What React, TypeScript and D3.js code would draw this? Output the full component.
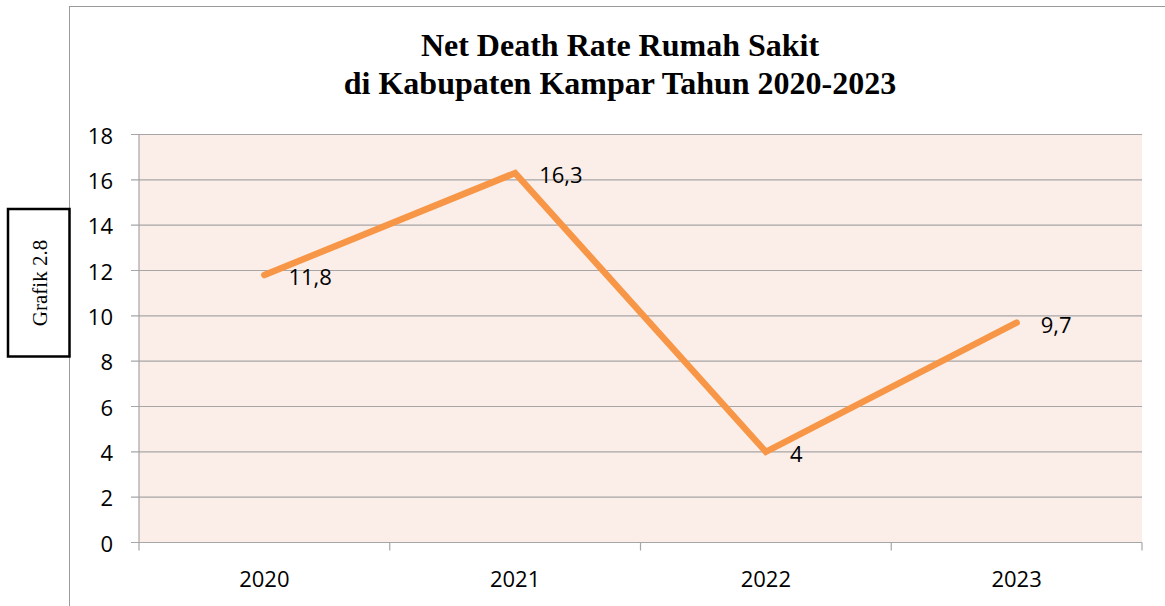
import React from 'react';
import * as d3 from 'd3';

// chart values
const years = ['2020', '2021', '2022', '2023'];
const netDeathRate = [11.8, 16.3, 4, 9.7];
const yTicks = [0, 2, 4, 6, 8, 10, 12, 14, 16, 18];
const titleLines = ['Net Death Rate Rumah Sakit', 'di Kabupaten Kampar Tahun 2020-2023'];
const sideLabel = 'Grafik 2.8';

const W = 1165;
const H = 606;
const plot = { left: 139, right: 1142, top: 134.5, bottom: 542.5 };

const lineColor = '#F79646';
const gridColor = '#A6A6A6';
const labelFont = '"Open Sans", "Noto Sans", sans-serif';
const titleFont = '"Liberation Serif", "Times New Roman", serif';
const labelSize = 22;

const fmt = (v: number) => String(v).replace('.', ',');

export default function App() {
  const x = d3.scaleBand<string>()
    .domain(years)
    .range([plot.left, plot.right])
    .padding(0);

  const y = d3.scaleLinear()
    .domain([0, 18])
    .range([plot.bottom, plot.top]);

  const pts = years.map((yr, i) => ({
    cx: (x(yr) as number) + x.bandwidth() / 2,
    cy: y(netDeathRate[i]),
    v: netDeathRate[i],
  }));

  const line = d3.line<{ cx: number; cy: number }>()
    .x(d => d.cx)
    .y(d => d.cy);

  // category boundaries for x tick marks
  const xBounds = years.map(yr => x(yr) as number).concat([plot.right]);

  return (
    <svg
      width={W}
      height={H}
      style={{ position: 'absolute', left: 0, top: 0, background: '#fff' }}>
      {/* outer chart frame, runs off the page on right and bottom */}
      <rect x={69.5} y={6.5} width={1200} height={700} fill="#fff" stroke="#9a9a9a" strokeWidth={1} />

      {/* title */}
      {titleLines.map((t, i) => (
        <text
          key={i}
          x={620}
          y={56 + i * 38}
          textAnchor="middle"
          fontFamily={titleFont}
          fontWeight="bold"
          fontSize={32}
          fill="#000">
          {t}
        </text>
      ))}

      {/* plot area */}
      <rect
        x={plot.left}
        y={plot.top}
        width={plot.right - plot.left}
        height={plot.bottom - plot.top}
        fill="#FBEDE8" />

      {yTicks.map(t => (
        <g key={t}>
          <line x1={131} x2={plot.right} y1={y(t)} y2={y(t)} stroke={gridColor} strokeWidth={1.2} />
          <text
            x={113}
            y={y(t)}
            textAnchor="end"
            dominantBaseline="central"
            fontFamily={labelFont}
            fontSize={labelSize}
            fill="#000">
            {t}
          </text>
        </g>
      ))}

      <line x1={plot.left} x2={plot.left} y1={plot.top} y2={plot.bottom} stroke={gridColor} strokeWidth={1.2} />

      {xBounds.map((b, i) => (
        <line key={i} x1={b} x2={b} y1={plot.bottom} y2={plot.bottom + 8} stroke={gridColor} strokeWidth={1.2} />
      ))}

      {years.map(yr => (
        <text
          key={yr}
          x={(x(yr) as number) + x.bandwidth() / 2}
          y={578}
          textAnchor="middle"
          dominantBaseline="central"
          fontFamily={labelFont}
          fontSize={labelSize}
          fill="#000">
          {yr}
        </text>
      ))}

      {/* series */}
      <path
        d={line(pts) || ''}
        fill="none"
        stroke={lineColor}
        strokeWidth={6.5}
        strokeLinecap="round"
        strokeLinejoin="miter" />

      {pts.map((p, i) => (
        <text
          key={i}
          x={p.cx + 24}
          y={p.cy + 1}
          dominantBaseline="central"
          fontFamily={labelFont}
          fontSize={labelSize}
          fill="#000">
          {fmt(p.v)}
        </text>
      ))}

      {/* side caption box */}
      <rect x={8} y={209} width={61.5} height={147.5} fill="#fff" stroke="#000" strokeWidth={2.5} />
      <text
        transform="translate(40,283) rotate(-90)"
        textAnchor="middle"
        dominantBaseline="central"
        fontFamily={titleFont}
        fontSize={21}
        fill="#000">
        {sideLabel}
      </text>
    </svg>
  );
}
